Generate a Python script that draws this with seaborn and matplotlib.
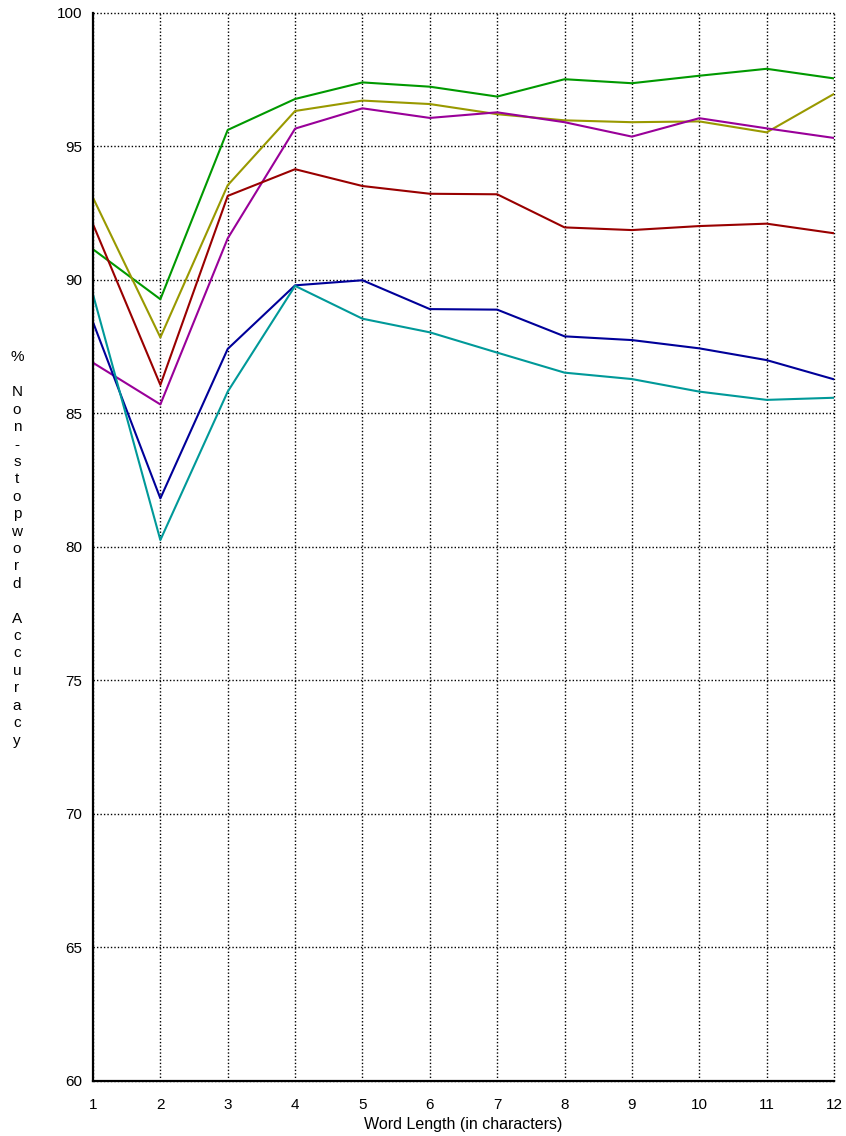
import matplotlib
matplotlib.use("Agg")
import matplotlib.pyplot as plt
import seaborn as sns
import pandas as pd

word_length = [1, 2, 3, 4, 5, 6, 7, 8, 9, 10, 11, 12]

green_acc = [91.15, 89.28, 95.62, 96.78, 97.40, 97.24, 96.87, 97.52, 97.37, 97.65, 97.91, 97.55]
olive_acc = [93.08, 87.85, 93.55, 96.33, 96.72, 96.59, 96.21, 95.98, 95.91, 95.94, 95.53, 96.97]
purple_acc = [86.90, 85.34, 91.56, 95.67, 96.43, 96.07, 96.28, 95.91, 95.37, 96.06, 95.68, 95.32]
red_acc = [92.09, 86.07, 93.15, 94.15, 93.52, 93.23, 93.21, 91.97, 91.87, 92.02, 92.11, 91.75]
blue_acc = [88.42, 81.82, 87.42, 89.80, 89.99, 88.91, 88.89, 87.89, 87.75, 87.44, 87.00, 86.28]
teal_acc = [89.46, 80.26, 85.82, 89.78, 88.55, 88.04, 87.28, 86.53, 86.29, 85.82, 85.51, 85.59]

series = {
    "green": green_acc,
    "olive": olive_acc,
    "purple": purple_acc,
    "red": red_acc,
    "blue": blue_acc,
    "teal": teal_acc,
}
colors = {
    "green": "#009900",
    "olive": "#999900",
    "purple": "#990099",
    "red": "#990000",
    "blue": "#000099",
    "teal": "#009999",
}

rows = []
for name, vals in series.items():
    for x, v in zip(word_length, vals):
        rows.append({"length": x, "accuracy": v, "series": name})
df = pd.DataFrame(rows)

sns.set_theme(style="white")
plt.rcParams["font.family"] = ["Liberation Sans", "DejaVu Sans"]

fig = plt.figure(figsize=(8.46, 11.36), dpi=100)
ax = fig.add_axes([93 / 846, 1 - 1081 / 1136, (834 - 93) / 846, (1081 - 13) / 1136])

sns.lineplot(data=df, x="length", y="accuracy", hue="series", palette=colors,
             linewidth=1.5, legend=False, ax=ax, zorder=3)

ax.set_xlim(1, 12)
ax.set_ylim(60, 100)
ax.set_xticks(word_length)
ax.set_yticks(range(60, 101, 5))
ax.tick_params(axis="both", direction="out", length=5, width=1.2, color="black",
               labelsize=11, labelcolor="black")
ax.tick_params(axis="y", pad=3)
ax.tick_params(axis="x", pad=7)
ax.grid(True, color="black", linestyle=(0, (1, 1.5)), linewidth=1.0, zorder=1)
for gl in ax.get_xgridlines() + ax.get_ygridlines():
    gl.set_clip_on(False)

for side in ["top", "right"]:
    ax.spines[side].set_visible(False)
for side in ["left", "bottom"]:
    ax.spines[side].set_color("black")
    ax.spines[side].set_linewidth(1.6)
    ax.spines[side].set_zorder(4)

ax.set_xlabel("Word Length (in characters)", fontsize=11.5, color="black", labelpad=4)
ax.set_ylabel("")

ylabel_text = "%\n\n" + "\n".join("Non-stopword") + "\n\n" + "\n".join("Accuracy")
fig.text(17 / 846, 1 - 549 / 1136, ylabel_text, ha="center", va="center",
         multialignment="center", fontsize=11, linespacing=1.31, color="black")

fig.savefig("out.png", dpi=100, facecolor="white")
